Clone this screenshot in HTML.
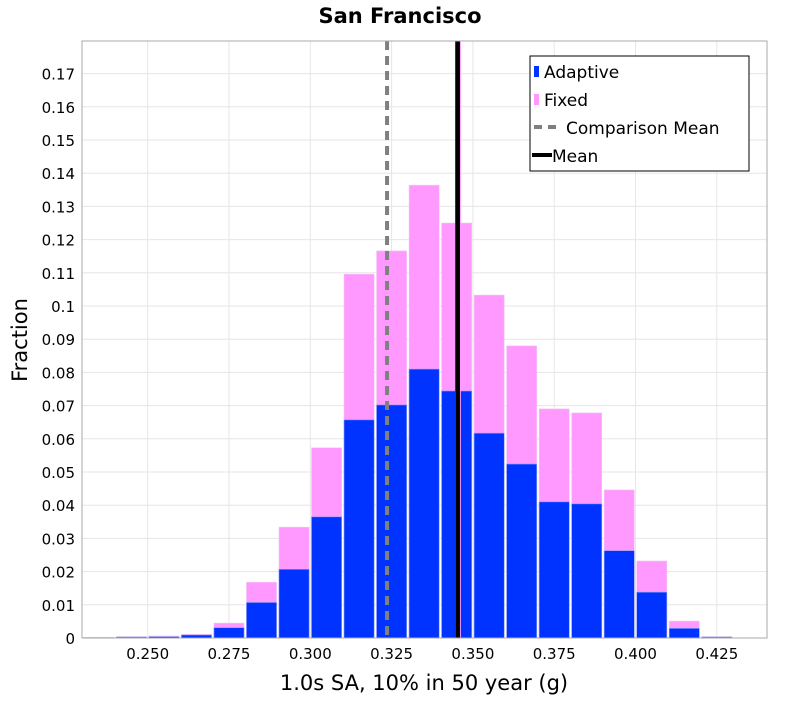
<!DOCTYPE html>
<html><head><meta charset="utf-8"><style>
body{margin:0;background:#fff;}
svg text{font-family:"DejaVu Sans","Liberation Sans",sans-serif;}
</style></head><body>
<svg id="chart" width="800" height="700" xmlns="http://www.w3.org/2000/svg">
<text x="400" y="23" text-anchor="middle" font-size="21" font-weight="bold">San Francisco</text>
<g id="grid"></g>
<g id="bars"></g>
<g id="lines"></g>
<rect x="82" y="41" width="685" height="597" fill="none" stroke="#aaa" stroke-width="1"/>
<g id="xticks"></g>
<g id="yticks"></g>
<text x="424" y="690" text-anchor="middle" font-size="21">1.0s SA, 10% in 50 year (g)</text>
<text transform="translate(27,340) rotate(-90)" text-anchor="middle" font-size="21">Fraction</text>
<g>
<rect x="530" y="56" width="219" height="115" fill="#fff" stroke="#000" stroke-width="1"/>
<rect x="534" y="66" width="5" height="11" fill="#0033ff"/>
<text x="544" y="78" font-size="17">Adaptive</text>
<rect x="534" y="94" width="5" height="11" fill="#ff99ff"/>
<text x="544" y="106" font-size="17">Fixed</text>
<line x1="534" y1="127" x2="561" y2="127" stroke="#808080" stroke-width="4" stroke-dasharray="8,6"/>
<text x="566" y="134" font-size="17">Comparison Mean</text>
<line x1="532" y1="155" x2="552" y2="155" stroke="#000" stroke-width="4"/>
<text x="552" y="162" font-size="17">Mean</text>
</g>
</svg>
<script>
const binCenters=[0.235,0.245,0.255,0.265,0.275,0.285,0.295,0.305,0.315,0.325,0.335,0.345,0.355,0.365,0.375,0.385,0.395,0.405,0.415,0.425];
const fixedValues=[0.0002,0.0004,0.0006,0.0011,0.0045,0.0168,0.0334,0.0573,0.1096,0.1166,0.1364,0.125,0.1033,0.088,0.069,0.0678,0.0446,0.0232,0.0051,0.0004];
const adaptiveValues=[0.0001,0.0003,0.0004,0.0009,0.0031,0.0107,0.0207,0.0365,0.0657,0.0702,0.081,0.0744,0.0617,0.0524,0.041,0.0404,0.0263,0.0138,0.0029,0.0003];
const binWidth=0.01;
const xTickLabels=["0.250","0.275","0.300","0.325","0.350","0.375","0.400","0.425"];
const yTickLabels=["0","0.01","0.02","0.03","0.04","0.05","0.06","0.07","0.08","0.09","0.1","0.11","0.12","0.13","0.14","0.15","0.16","0.17"];
const comparisonMean=0.3236;
const adaptiveMean=0.3448;
const fixedMean=0.3460;
const mean=0.3454;
const NS="http://www.w3.org/2000/svg";
const X=v=>147.7+(v-0.25)*3252;
const Y=v=>638-v*3320;
function mk(t,a,p){const e=document.createElementNS(NS,t);for(const k in a)e.setAttribute(k,a[k]);document.getElementById(p).appendChild(e);return e;}
xTickLabels.forEach(s=>{const v=parseFloat(s);
 const g=mk('line',{x1:X(v),x2:X(v),y1:41,y2:638,stroke:'#e6e6e6'},'grid');
 
 
 const t=mk('text',{x:X(v),y:659,'text-anchor':'middle','font-size':'15'},'xticks');
 
 
 t.textContent=s;});
yTickLabels.forEach(s=>{const v=parseFloat(s);
 const g=mk('line',{x1:82,x2:767,y1:Y(v),y2:Y(v),stroke:'#e6e6e6'},'grid');
 
 
 const t=mk('text',{x:75,y:Y(v)+6,'text-anchor':'end','font-size':'15'},'yticks');
 
 
 t.textContent=s;});
binCenters.forEach((c,i)=>{const x0=X(c-binWidth/2)+1.2,x1=X(c+binWidth/2)-1.2;
 const f=mk('rect',{x:x0,y:Y(fixedValues[i]),width:x1-x0,height:638-Y(fixedValues[i]),fill:'#ff99ff',stroke:'#f3c8f3','stroke-width':0.6},'bars');
 
 
 const a=mk('rect',{x:x0,y:Y(adaptiveValues[i]),width:x1-x0,height:638-Y(adaptiveValues[i]),fill:'#0033ff',stroke:'#8a9cf5','stroke-width':0.6},'bars');
 
 });
const cm=mk('line',{x1:X(comparisonMean),x2:X(comparisonMean),y1:41,y2:638,stroke:'#808080','stroke-width':4,'stroke-dasharray':'9,6'},'lines');


const am=mk('line',{x1:X(adaptiveMean),x2:X(adaptiveMean),y1:41,y2:638,stroke:'#0033ff','stroke-width':2},'lines');


const fm=mk('line',{x1:X(fixedMean),x2:X(fixedMean),y1:41,y2:638,stroke:'#ff99ff','stroke-width':2},'lines');


const mm=mk('line',{x1:X(mean),x2:X(mean),y1:41,y2:638,stroke:'#000','stroke-width':4},'lines');


</script>
</body></html>
